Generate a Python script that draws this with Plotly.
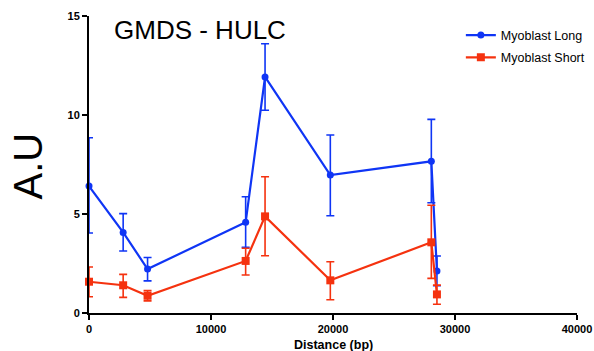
import plotly.graph_objects as go

distance = [0, 2800, 4800, 12840, 14430, 19780, 28060, 28520]

long_vals = [6.41, 4.07, 2.22, 4.58, 11.92, 6.97, 7.66, 2.12]
long_err_plus = [2.44, 0.95, 0.58, 1.29, 1.68, 2.02, 2.12, 0.76]
long_err_minus = [2.37, 0.94, 0.60, 1.26, 1.68, 2.06, 2.09, 0.74]

short_vals = [1.58, 1.40, 0.87, 2.63, 4.88, 1.65, 3.57, 0.94]
short_err_plus = [0.74, 0.55, 0.26, 0.64, 2.00, 0.94, 1.87, 0.47]
short_err_minus = [0.76, 0.61, 0.26, 0.71, 1.99, 0.98, 1.82, 0.50]

x_ticks = [0, 10000, 20000, 30000, 40000]
y_ticks = [0, 5, 10, 15]

BLUE = "#0F35F5"
RED = "#F5320F"
FONT = "Arial, Liberation Sans, sans-serif"

fig = go.Figure()
fig.add_trace(go.Scatter(
    x=distance, y=long_vals, name="Myoblast Long", mode="lines+markers",
    legendgroup="a",
    line=dict(color=BLUE, width=2.2),
    marker=dict(symbol="circle", size=7, color=BLUE),
    error_y=dict(type="data", array=long_err_plus, arrayminus=long_err_minus,
                 color=BLUE, thickness=1.6, width=4),
    cliponaxis=False,
))
fig.add_trace(go.Scatter(
    x=distance, y=short_vals, name="Myoblast Short", mode="lines+markers",
    legendgroup="b",
    line=dict(color=RED, width=2.2),
    marker=dict(symbol="square", size=8, color=RED),
    error_y=dict(type="data", array=short_err_plus, arrayminus=short_err_minus,
                 color=RED, thickness=1.6, width=4),
    cliponaxis=False,
))

fig.update_layout(
    width=594, height=351,
    margin=dict(l=89, r=17, t=16, b=38, autoexpand=False),
    plot_bgcolor="white", paper_bgcolor="white",
    font=dict(family=FONT, color="black"),
    showlegend=True,
    legend=dict(x=0.762, y=0.985, xanchor="left", yanchor="top",
                bgcolor="rgba(0,0,0,0)", font=dict(size=12.5, family=FONT),
                tracegroupgap=3, itemwidth=30),
    xaxis=dict(range=[0, 40000], tickvals=x_ticks, ticktext=[f"<b>{v}</b>" for v in x_ticks],
               showgrid=False, zeroline=False, showline=True, linecolor="black", linewidth=2,
               ticks="outside", ticklen=5, tickwidth=2, tickcolor="black", automargin=False,
               tickfont=dict(size=11, family=FONT)),
    yaxis=dict(range=[0, 15], tickvals=y_ticks, ticktext=[f"<b>{v}</b>" for v in y_ticks],
               showgrid=False, zeroline=False, showline=True, linecolor="black", linewidth=2,
               ticks="outside", ticklen=5, tickwidth=2, tickcolor="black", automargin=False,
               tickfont=dict(size=11, family=FONT)),
    annotations=[
        dict(text="GMDS - HULC", x=0.047, y=0.953, xref="paper", yref="paper",
             xanchor="left", yanchor="middle", showarrow=False,
             font=dict(size=26, family=FONT, color="black")),
        dict(text="A.U", x=-0.126, y=0.495, xref="paper", yref="paper",
             xanchor="center", yanchor="middle", textangle=-90, showarrow=False,
             font=dict(size=40, family=FONT, color="black")),
        dict(text="<b>Distance (bp)</b>", x=0.5, y=-0.108, xref="paper", yref="paper",
             xanchor="center", yanchor="middle", showarrow=False,
             font=dict(size=12.5, family=FONT, color="black")),
    ],
)

# remove the default 8px page margin so the figure sits at the window's corner
fig.write_html("out.html", config={"displayModeBar": False},
               post_script="document.body.style.margin='0';")
